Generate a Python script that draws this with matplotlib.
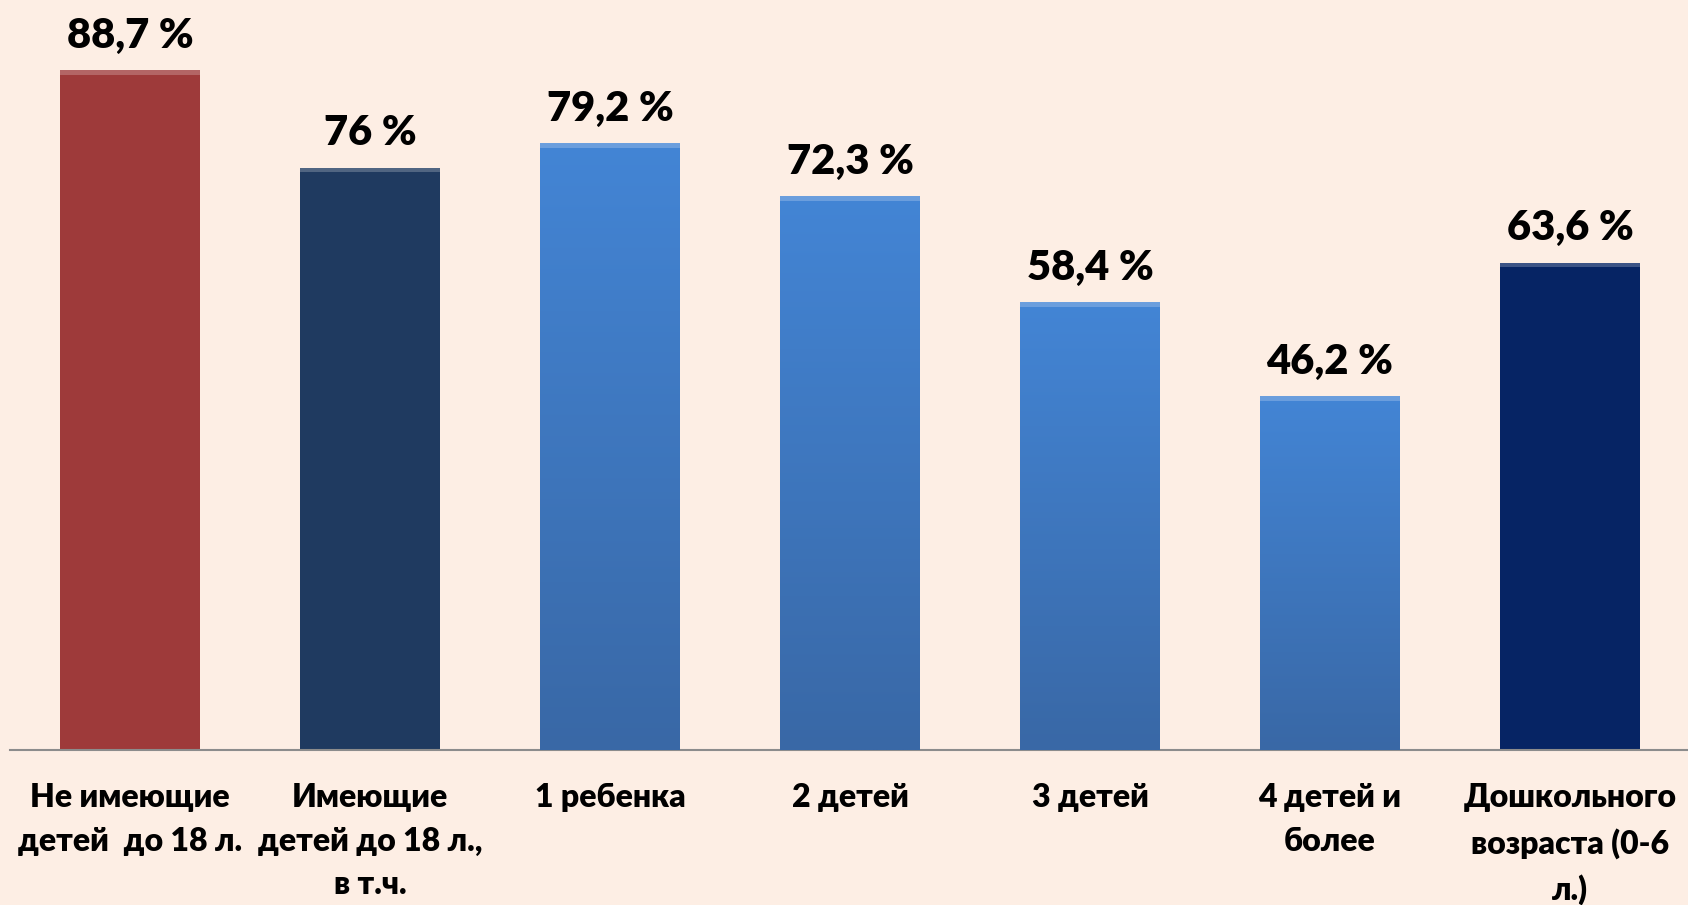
import numpy as np
import matplotlib.pyplot as plt
from matplotlib.colors import LinearSegmentedColormap
from matplotlib.patches import Rectangle

# данные
categories = ['Не имеющие\nдетей  до 18 л.', 'Имеющие\nдетей до 18 л.,\nв т.ч.', '1 ребенка',
              '2 детей', '3 детей', '4 детей и\nболее', 'Дошкольного\nвозраста (0-6\nл.)']
values = [88.7, 76.0, 79.2, 72.3, 58.4, 46.2, 63.6]
value_labels = ['88,7 %', '76 %', '79,2 %', '72,3 %', '58,4 %', '46,2 %', '63,6 %']

bg = '#FDEEE4'
colors = ['#9E3A3A', '#1F3A60', None, None, None, None, '#062464']
blue = LinearSegmentedColormap.from_list('blue', ['#3968A6', '#4385D5'])

plt.rcParams['font.family'] = ['Lato', 'DejaVu Sans']

fig = plt.figure(figsize=(16.88, 9.05), dpi=100, facecolor=bg)
ax = fig.add_axes([10/1688, 155/905, 1680/1688, 728/905])
ax.set_facecolor(bg)

x = np.arange(len(values))
w = 0.58
bars = ax.bar(x, values, width=w, color=[c if c else '#4078C2' for c in colors],
              edgecolor='none', zorder=2)

# градиент для голубых столбцов
grad = np.linspace(0, 1, 256).reshape(-1, 1)
for i, b in enumerate(bars):
    x0, h = b.get_x(), b.get_height()
    if colors[i] is None:
        im = ax.imshow(grad, cmap=blue, aspect='auto', origin='lower',
                       extent=(x0, x0 + w, 0, h), zorder=3)
        im.set_clip_path(b)
    # светлая кромка сверху
    ax.add_patch(Rectangle((x0, h - 0.6), w, 0.6, facecolor='white', alpha=0.22,
                           edgecolor='none', zorder=4))
    ax.annotate(value_labels[i], (x[i], h), xytext=(0, 11), textcoords='offset points',
                ha='center', va='bottom', fontsize=30, fontweight='heavy', color='black')

ax.set_xlim(-0.5, len(values) - 0.5)
ax.set_ylim(0, 95)
for s in ['top', 'right', 'left']:
    ax.spines[s].set_visible(False)
ax.spines['bottom'].set_color('#8C8C8C')
ax.spines['bottom'].set_linewidth(1.5)
ax.set_yticks([])
ax.set_xticks(x)
ax.set_xticklabels(categories, fontsize=23, fontweight='heavy', linespacing=1.6)
ax.tick_params(axis='x', length=0, pad=24)

fig.savefig('out.png', dpi=100, facecolor=bg)
